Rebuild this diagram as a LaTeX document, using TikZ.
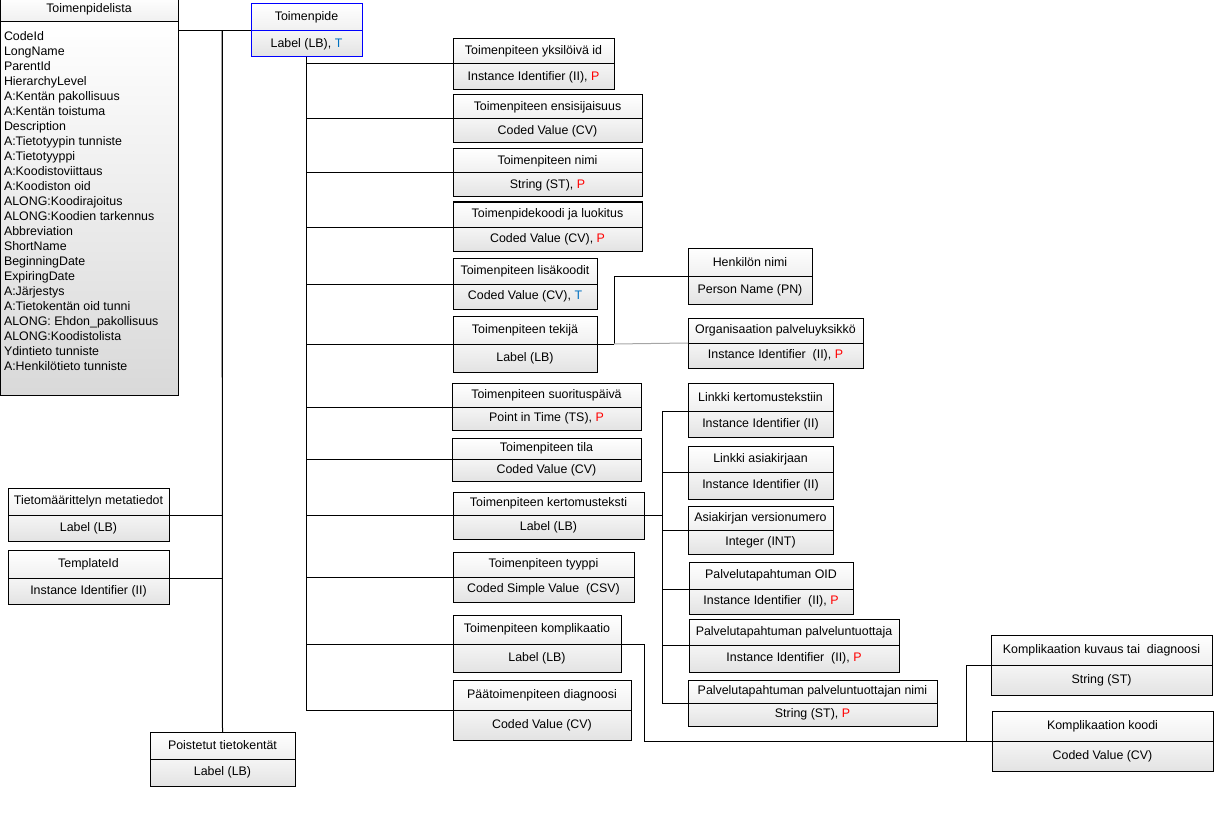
\documentclass[tikz,border=0pt]{standalone}
\usepackage{fontspec}
\setmainfont{Liberation Sans}
\usepackage{tikz}

\definecolor{tblue}{RGB}{0,112,192}
\definecolor{pred}{RGB}{255,0,0}

\newcommand{\reqP}{, \textcolor{pred}{P}}
\newcommand{\optT}{, \textcolor{tblue}{T}}

\tikzset{
  boxtext/.style={font=\fontsize{9.3}{11}\selectfont, inner sep=0pt, outer sep=0pt, anchor=north west, line width=0.75pt},
  head/.style={boxtext, draw, top color=white, bottom color=gray!12},
  kind/.style={boxtext, draw, top color=gray!8, bottom color=gray!22},
  conn/.style={line width=0.75pt}
}

% #2 name, #3 x1, #4 y1, #5 divider, #6 x2, #7 y2, #8 field, #9 type
\newcommand{\fieldbox}[9][]{%
  \node[head, #1, minimum width={(#6-#3)*0.75pt}, minimum height={(#5-#4)*0.75pt}] (#2-h) at (#3,#4) {#8};
  \node[kind, #1, minimum width={(#6-#3)*0.75pt}, minimum height={(#7-#5)*0.75pt}] (#2-t) at (#3,#5) {#9};
}

\begin{document}
\begin{tikzpicture}[x=0.75pt, y=-0.75pt]
  \useasboundingbox (0,0) rectangle (1224,838);

  % list of fields
  \node[head, minimum width={178*0.75pt}, minimum height={25*0.75pt}] (lst-h) at (0,-3) {Toimenpidelista};
  \node[boxtext, draw, top color=white, bottom color=gray!30, minimum width={178*0.75pt}, minimum height={373*0.75pt}] (lst-b) at (0,22) {};
  \node[boxtext, align=left, font=\fontsize{9.3}{11.25}\selectfont] (lst-txt) at (4,31.5) {CodeId\\LongName\\ParentId\\HierarchyLevel\\A:Kentän pakollisuus\\A:Kentän toistuma\\Description\\A:Tietotyypin tunniste\\A:Tietotyyppi\\A:Koodistoviittaus\\A:Koodiston oid\\ALONG:Koodirajoitus\\ALONG:Koodien tarkennus\\Abbreviation\\ShortName\\BeginningDate\\ExpiringDate\\A:Järjestys\\A:Tietokentän oid tunni\\ALONG: Ehdon\_pakollisuus\\ALONG:Koodistolista\\Ydintieto tunniste\\A:Henkilötieto tunniste};

  \fieldbox[draw=blue]{tp}{251}{4}{31}{362}{57}{Toimenpide}{Label (LB)\optT}
  \fieldbox{meta}{8}{488}{515}{169}{541}{Tietomäärittelyn metatiedot}{Label (LB)}
  \fieldbox{tmpl}{8}{550}{578}{169}{604}{TemplateId}{Instance Identifier (II)}
  \fieldbox{poist}{150}{732}{759}{295}{786}{Poistetut tietokentät}{Label (LB)}

  \fieldbox{yid}{453}{39}{64}{614}{90}{Toimenpiteen yksilöivä id}{Instance Identifier (II)\reqP}
  \fieldbox{ens}{453}{95}{119}{642}{143}{Toimenpiteen ensisijaisuus}{Coded Value (CV)}
  \fieldbox{nimi}{453}{149}{173}{642}{197}{Toimenpiteen nimi}{String (ST)\reqP}
  \fieldbox{koodi}{453}{202}{227}{642}{251}{Toimenpidekoodi ja luokitus}{Coded Value (CV)\reqP}
  \fieldbox{lisa}{453}{258}{284}{597}{309}{Toimenpiteen lisäkoodit}{Coded Value (CV)\optT}
  \fieldbox{tek}{453}{316}{344}{597}{372}{Toimenpiteen tekijä}{Label (LB)}
  \fieldbox{suor}{452}{383}{407}{641}{430}{Toimenpiteen suorituspäivä}{Point in Time (TS)\reqP}
  \fieldbox{tila}{452}{438}{459}{641}{481}{Toimenpiteen tila}{Coded Value (CV)}
  \fieldbox{kert}{453}{492}{515}{644}{539}{Toimenpiteen kertomusteksti}{Label (LB)}
  \fieldbox{tyyp}{453}{552}{577}{634}{602}{Toimenpiteen tyyppi}{Coded Simple Value\ \ (CSV)}
  \fieldbox{kompl}{453}{615}{644}{621}{672}{Toimenpiteen komplikaatio}{Label (LB)}
  \fieldbox{paat}{453}{680}{710}{631}{740}{Päätoimenpiteen diagnoosi}{Coded Value (CV)}

  \fieldbox{henk}{688}{248}{276}{812}{304}{Henkilön nimi}{Person Name (PN)}
  \fieldbox{org}{688}{318}{343}{863}{368}{Organisaation palveluyksikkö}{Instance Identifier\ \ (II)\reqP}

  \fieldbox{lkt}{688}{383}{411}{833}{437}{Linkki kertomustekstiin}{Instance Identifier (II)}
  \fieldbox{lak}{688}{446}{472}{833}{499}{Linkki asiakirjaan}{Instance Identifier (II)}
  \fieldbox{ver}{688}{506}{530}{833}{554}{Asiakirjan versionumero}{Integer (INT)}
  \fieldbox{poid}{689}{562}{589}{853}{614}{Palvelutapahtuman OID}{Instance Identifier\ \ (II)\reqP}
  \fieldbox{ptu}{689}{619}{645}{899}{672}{Palvelutapahtuman palveluntuottaja}{Instance Identifier\ \ (II)\reqP}
  \fieldbox{ptn}{688}{680}{703}{937}{726}{Palvelutapahtuman palveluntuottajan nimi}{String (ST)\reqP}

  \fieldbox{kuv}{991}{635}{665}{1212}{695}{Komplikaation kuvaus tai\ \ diagnoosi}{String (ST)}
  \fieldbox{kkoo}{992}{711}{741}{1213}{771}{Komplikaation koodi}{Coded Value (CV)}

  % connectors
  \coordinate (lstj) at (222,31);
  \coordinate (tekj) at (614,344);
  \coordinate (kertj) at (662,515);
  \coordinate (komplj) at (644,741);
  \coordinate (kkooj) at (966,741);

  \draw[conn] (lst-b.east |- tp-t.north west) -- (tp-t.north west);
  \draw[conn] (lstj) -- (poist-h.north);
  \draw[conn] (lstj) |- (meta-t.north east);
  \draw[conn] (lstj) |- (tmpl-t.north east);

  \foreach \c in {yid,ens,nimi,koodi,lisa,tek,suor,tila,kert,tyyp,kompl,paat}
    \draw[conn] (tp-t.south) |- (\c-t.north west);

  \draw[conn] (tek-t.north east) -- (tekj);
  \draw[conn] (tekj) |- (henk-t.north west);
  \draw[conn, gray!70] (tekj) -- (org-t.north west);

  \draw[conn] (kert-t.north east) -- (kertj);
  \foreach \c in {lkt,lak,ver,poid,ptu,ptn}
    \draw[conn] (kertj) |- (\c-t.north west);

  \draw[conn] (kompl-t.north east) -| (komplj) -- (kkoo-t.north west);
  \draw[conn] (kkooj) |- (kuv-t.north west);
\end{tikzpicture}
\end{document}
